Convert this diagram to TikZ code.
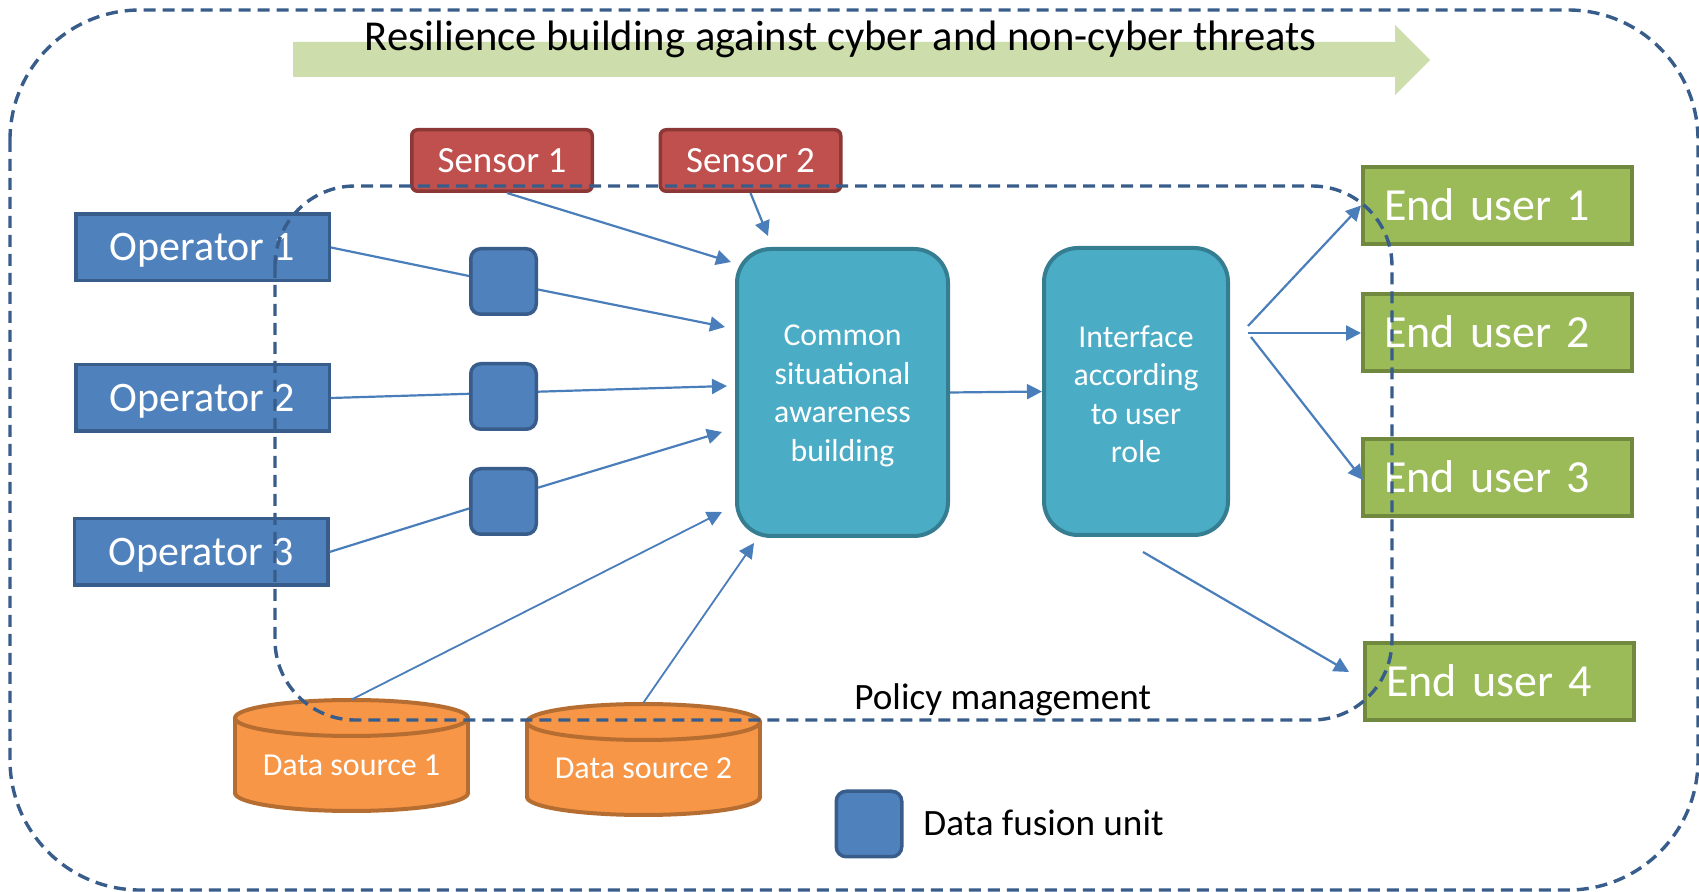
\documentclass[tikz,border=0pt]{standalone}
\usepackage{fontspec}
\setmainfont{Carlito}
\usetikzlibrary{arrows.meta,calc}
\definecolor{dashc}{HTML}{385D8A}
\definecolor{blueF}{HTML}{4F81BD}
\definecolor{blueD}{HTML}{385D8A}
\definecolor{redF}{HTML}{C0504D}
\definecolor{redD}{HTML}{8C3836}
\definecolor{tealF}{HTML}{4BACC6}
\definecolor{tealD}{HTML}{357D91}
\definecolor{grnF}{HTML}{9BBB59}
\definecolor{grnD}{HTML}{71893F}
\definecolor{orF}{HTML}{F79646}
\definecolor{orD}{HTML}{B66D31}
\definecolor{arrC}{HTML}{4A7EBB}
\definecolor{titleF}{HTML}{CDDDAC}
\pgfdeclareradialshading{slidebg}{\pgfpoint{12bp}{12bp}}{color(0bp)=(white); color(44bp)=(white); color(56bp)=(black!8); color(75bp)=(black!12)}
\tikzset{
  box/.style={draw, line width=1.75pt, text=white, inner sep=0pt, text depth=0pt},
  opbox/.style={box, fill=blueF, draw=blueD, minimum width=126.75pt, minimum height=33.25pt, text height=13.5pt, font=\fontsize{21}{25}\selectfont},
  fusbox/.style={fill=blueF, draw=blueD, line width=1.75pt, rounded corners=5pt, minimum size=32.75pt, inner sep=0pt},
  sensbox/.style={box, fill=redF, draw=redD, rounded corners=3pt, minimum width=90.25pt, minimum height=30.75pt, text height=11.9pt, font=\fontsize{18.5}{22}\selectfont},
  tealbox/.style={fill=tealF, draw=tealD, line width=2pt, rounded corners=17pt, text=white, align=center, inner sep=0pt, minimum height=143.5pt, font=\fontsize{15.9}{19.2}\selectfont},
  eubox/.style={box, line width=2pt, fill=grnF, draw=grnD, minimum height=38.5pt, text width=113.5pt, align=left, inner xsep=10.5pt, text height=14.8pt, font=\fontsize{23}{27}\selectfont},
  dstext/.style={text=white, font=\fontsize{16}{19}\selectfont, text height=10.3pt, text depth=0pt, inner sep=0pt, minimum height=65pt},
  cylfill/.style={fill=orF},
  cylline/.style={draw=orD, line width=2pt},
  conn/.style={draw=arrC, line width=1.1pt},
  arr/.style={conn, -{Triangle[length=7.5pt,width=7.5pt]}},
  dashline/.style={draw=dashc, line width=1.7pt, dash pattern=on 6pt off 3.5pt},
  plaintext/.style={text=black, inner sep=0pt}
}
\newcommand{\toplift}{\rule{0pt}{13.8pt}}
\begin{document}
\begin{tikzpicture}[x=0.5pt,y=-0.5pt]
\useasboundingbox (0,0) rectangle (1699,892);
\shade[shading=slidebg] (0,0) rectangle (1699,892);

% outer dashed frame
\draw[dashline, rounded corners=65pt] (10,10) rectangle (1698,890);

% title arrow
\fill[titleF] (293,42) -- (1395,42) -- (1395,25) -- (1430,60) -- (1395,95) -- (1395,77) -- (293,77) -- cycle;
\node[plaintext, anchor=base, font=\fontsize{21.3}{25}\selectfont] (title) at (840.5,51) {Resilience building against cyber and non-cyber threats};

% operators
\node[opbox] (op1) at (202.5,247.5) {Operator 1};
\node[opbox] (op2) at (202.5,398) {Operator 2};
\node[opbox] (op3) at (201,552) {Operator 3};

% sensors
\node[sensbox] (s1) at (502,160.5) {Sensor 1};
\node[sensbox] (s2) at (750.5,160.5) {Sensor 2};

% fusion units
\node[fusbox] (fus1) at (503.5,281.5) {};
\node[fusbox] (fus2) at (503.5,396.5) {};
\node[fusbox] (fus3) at (503.5,501.5) {};

% central boxes
\node[tealbox, minimum width=105.5pt] (csa) at (842.5,392.5) {\toplift Common\\situational\\awareness\\building};
\node[tealbox, minimum width=92pt] (iface) at (1136,391.5) {\toplift Interface\\according\\to user\\role};

% end users
\node[eubox] (eu1) at (1497.5,205.5) {End user 1};
\node[eubox] (eu2) at (1497.5,333) {End user 2};
\node[eubox] (eu3) at (1497.5,477.5) {End user 3};
\node[eubox] (eu4) at (1499.5,681.5) {End user 4};

% data source cylinders
\fill[cylfill] (235,718) rectangle (468,793);
\fill[cylfill] (351.5,793) ellipse [x radius=116.5, y radius=18];
\fill[cylfill] (351.5,718) ellipse [x radius=116.5, y radius=18];
\draw[cylline] (235,718) -- (235,793) (468,718) -- (468,793);
\begin{scope}
  \clip (200,793) rectangle (500,840);
  \draw[cylline] (351.5,793) ellipse [x radius=116.5, y radius=18];
\end{scope}
\draw[cylline] (351.5,718) ellipse [x radius=116.5, y radius=18];
\node[dstext] (ds1) at (351.5,765) {Data source 1};

\fill[cylfill] (527,722) rectangle (760,797);
\fill[cylfill] (643.5,797) ellipse [x radius=116.5, y radius=18];
\fill[cylfill] (643.5,722) ellipse [x radius=116.5, y radius=18];
\draw[cylline] (527,722) -- (527,797) (760,722) -- (760,797);
\begin{scope}
  \clip (490,797) rectangle (800,845);
  \draw[cylline] (643.5,797) ellipse [x radius=116.5, y radius=18];
\end{scope}
\draw[cylline] (643.5,722) ellipse [x radius=116.5, y radius=18];
\node[dstext] (ds2) at (643.5,768) {Data source 2};

% connectors
\draw[arr] ([shift={(5,0)}]s1.south) -- ([shift={(-4,15)}]csa.north west);
\draw[arr] (s2.south) -- ([shift={(33,-11)}]csa.north west);
\draw[conn] (op1.east) -- ([shift={(0,-5.5)}]fus1.west);
\draw[arr] ([shift={(0,8)}]fus1.east) -- ([shift={(-10,-65.5)}]csa.west);
\draw[conn] (op2.east) -- ([shift={(0,-2.7)}]fus2.west);
\draw[arr] ([shift={(0,-4.8)}]fus2.east) -- ([shift={(-8,-6.5)}]csa.west);
\draw[conn] (op3.east) -- ([shift={(0,7)}]fus3.west);
\draw[arr] ([shift={(0,-13.8)}]fus3.east) -- ([shift={(-13,39.5)}]csa.west);
\draw[arr, line width=0.9pt] (ds1.north) -- ([shift={(-13,-26)}]csa.south west);
\draw[arr, line width=0.9pt] (ds2.north) -- ([shift={(19,5)}]csa.south west);
\draw[arr] (csa.east) -- (iface.west);
\coordinate (i1) at ([shift={(18,-65.5)}]iface.east);
\coordinate (i2) at ([shift={(18,-58.5)}]iface.east);
\coordinate (i3) at ([shift={(21,-54.5)}]iface.east);
\coordinate (i4) at ([shift={(7,15)}]iface.south);
\draw[arr] (i1) -- (eu1.west);
\draw[arr] (i2) -- (eu2.west);
\draw[arr] (i3) -- ([shift={(2,2.5)}]eu3.west);
\draw[arr] (i4) -- ([shift={(-14,-9.5)}]eu4.west);

% policy management frame
\draw[dashline, rounded corners=40pt] (275,186) rectangle (1392,720);
\node[plaintext, anchor=base west, font=\fontsize{18.6}{22}\selectfont] (pol) at (854,710) {Policy management};

% legend
\node[fusbox] (leg) at (869,824) {};
\node[plaintext, anchor=base west, font=\fontsize{18.6}{22}\selectfont] (legtxt) at (923,836) {Data fusion unit};
\end{tikzpicture}
\end{document}
